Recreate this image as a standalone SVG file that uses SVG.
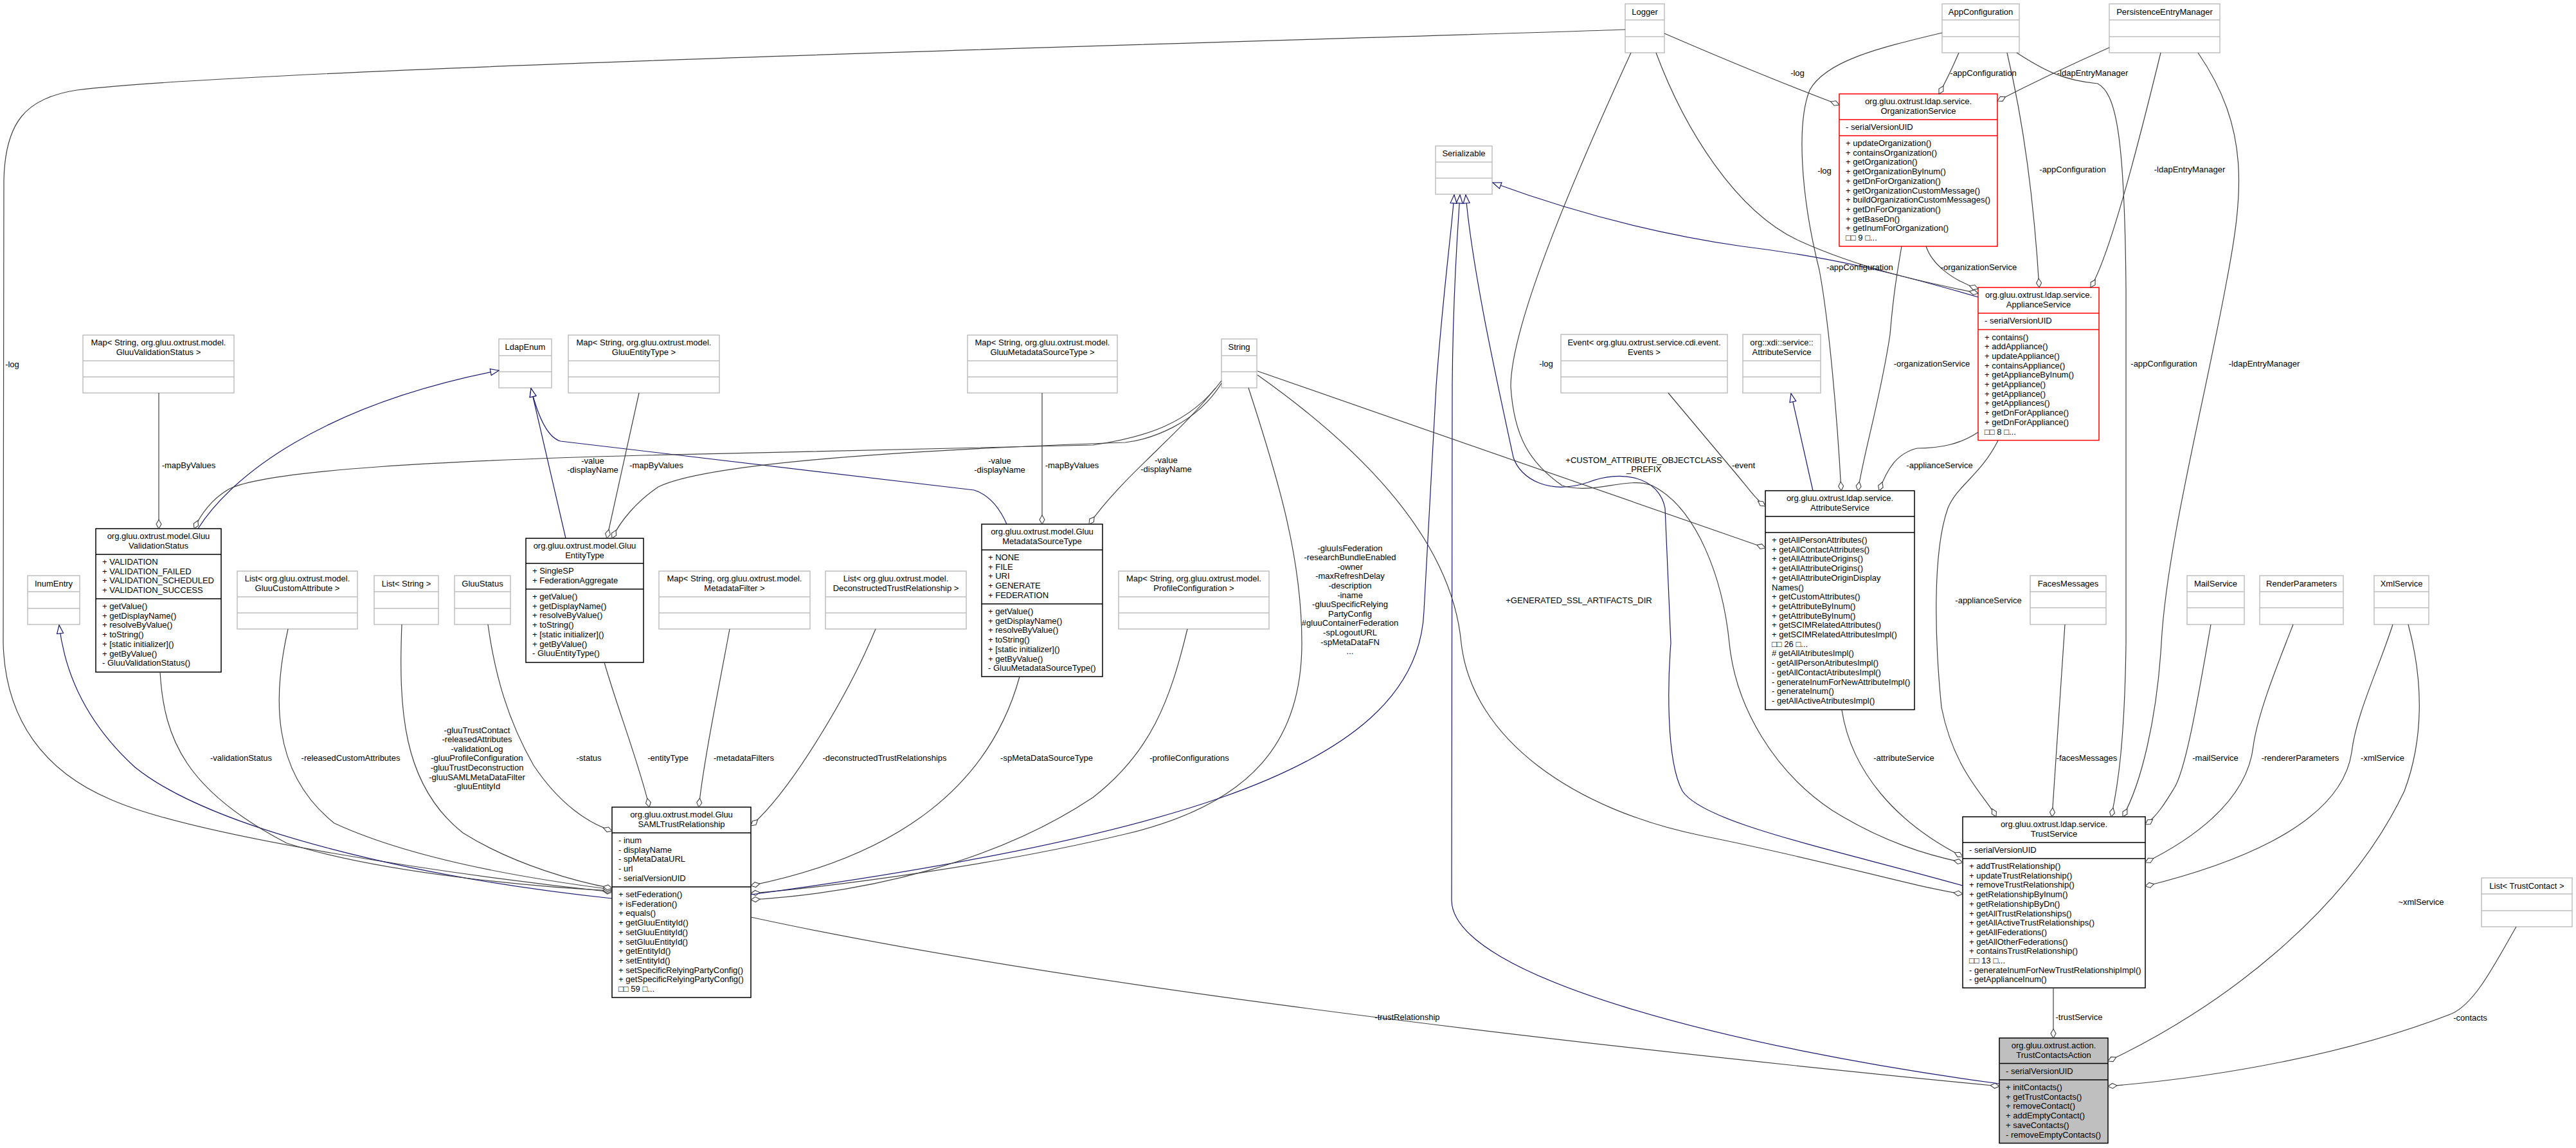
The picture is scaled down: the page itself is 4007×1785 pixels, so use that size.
<svg xmlns="http://www.w3.org/2000/svg" width="4007" height="1785" viewBox="0 0 4007 1785">
<style>
text{font-family:"Liberation Sans",Arial,Helvetica,sans-serif;font-size:13px;fill:#000}
.c{text-anchor:middle}
.gb{fill:#fff;stroke:#bfbfbf;stroke-width:1.5}
.gl{stroke:#bfbfbf;stroke-width:1.5;fill:none}
.bb{fill:#fff;stroke:#000;stroke-width:1.5}
.bl{stroke:#000;stroke-width:1.5;fill:none}
.rb{fill:#fff;stroke:#ff0000;stroke-width:1.5}
.rl{stroke:#ff0000;stroke-width:1.5;fill:none}
.fb{fill:#bfbfbf;stroke:#000;stroke-width:1.5}
.u{fill:none;stroke:#404040;stroke-width:1.2;marker-end:url(#dia)}
.i{fill:none;stroke:#191970;stroke-width:1.2;marker-end:url(#tri)}
</style>
<defs>
<marker id="dia" markerUnits="userSpaceOnUse" markerWidth="17" markerHeight="11" viewBox="-16 -5.5 17 11" refX="0" refY="0" orient="auto"><path d="M0,0 L-7,-4 L-14,0 L-7,4 Z" fill="#fff" stroke="#404040" stroke-width="1.1"/></marker>
<marker id="tri" markerUnits="userSpaceOnUse" markerWidth="16" markerHeight="13" viewBox="-15 -6.5 16 13" refX="0" refY="0" orient="auto"><path d="M0,0 L-13,-5 L-13,5 Z" fill="#fff" stroke="#191970" stroke-width="1.2"/></marker>
</defs>
<rect x="0" y="0" width="4007" height="1785" fill="#fff"/>

<g id="n_logger"><rect class="gb" x="2528" y="6" width="61" height="76"/><path class="gl" d="M2528,31H2589M2528,57H2589"/><text class="c" x="2558.5" y="22.5">Logger</text></g>
<g id="n_appconf"><rect class="gb" x="3021" y="6" width="120" height="76"/><path class="gl" d="M3021,31H3141M3021,57H3141"/><text class="c" x="3081" y="22.5">AppConfiguration</text></g>
<g id="n_pem"><rect class="gb" x="3281" y="6" width="172" height="76"/><path class="gl" d="M3281,31H3453M3281,57H3453"/><text class="c" x="3367" y="22.5">PersistenceEntryManager</text></g>
<g id="n_serializable"><rect class="gb" x="2233" y="227" width="88" height="75"/><path class="gl" d="M2233,252H2321M2233,277H2321"/><text class="c" x="2277" y="243">Serializable</text></g>
<g id="n_mapvs"><rect class="gb" x="129" y="521" width="235" height="90"/><path class="gl" d="M129,561H364M129,586H364"/><text class="c" x="246.5" y="537">Map&lt; String, org.gluu.oxtrust.model.</text><text class="c" x="246.5" y="551.7">GluuValidationStatus &gt;</text></g>
<g id="n_ldapenum"><rect class="gb" x="776" y="527" width="82" height="76"/><path class="gl" d="M776,553H858M776,578H858"/><text class="c" x="817" y="543.5">LdapEnum</text></g>
<g id="n_mapet"><rect class="gb" x="884" y="521" width="235" height="90"/><path class="gl" d="M884,561H1119M884,586H1119"/><text class="c" x="1001.5" y="537">Map&lt; String, org.gluu.oxtrust.model.</text><text class="c" x="1001.5" y="551.7">GluuEntityType &gt;</text></g>
<g id="n_mapmst"><rect class="gb" x="1505" y="521" width="233" height="90"/><path class="gl" d="M1505,561H1738M1505,586H1738"/><text class="c" x="1621.5" y="537">Map&lt; String, org.gluu.oxtrust.model.</text><text class="c" x="1621.5" y="551.7">GluuMetadataSourceType &gt;</text></g>
<g id="n_string"><rect class="gb" x="1900" y="527" width="55" height="76"/><path class="gl" d="M1900,553H1955M1900,578H1955"/><text class="c" x="1927.5" y="543.5">String</text></g>
<g id="n_events"><rect class="gb" x="2428" y="520" width="259" height="91"/><path class="gl" d="M2428,561H2687M2428,586H2687"/><text class="c" x="2557.5" y="537">Event&lt; org.gluu.oxtrust.service.cdi.event.</text><text class="c" x="2557.5" y="551.7">Events &gt;</text></g>
<g id="n_xdiattr"><rect class="gb" x="2711" y="520" width="121" height="91"/><path class="gl" d="M2711,561H2832M2711,586H2832"/><text class="c" x="2771.5" y="537">org::xdi::service::</text><text class="c" x="2771.5" y="551.7">AttributeService</text></g>
<g id="n_inumentry"><rect class="gb" x="43" y="895" width="81" height="76"/><path class="gl" d="M43,920H124M43,946H124"/><text class="c" x="83.5" y="911.5">InumEntry</text></g>
<g id="n_listgca"><rect class="gb" x="369" y="888" width="187" height="90"/><path class="gl" d="M369,928H556M369,953H556"/><text class="c" x="462.5" y="904">List&lt; org.gluu.oxtrust.model.</text><text class="c" x="462.5" y="918.7">GluuCustomAttribute &gt;</text></g>
<g id="n_liststring"><rect class="gb" x="582" y="895" width="100" height="76"/><path class="gl" d="M582,920H682M582,946H682"/><text class="c" x="632" y="911.5">List&lt; String &gt;</text></g>
<g id="n_gluustatus"><rect class="gb" x="707" y="895" width="87" height="76"/><path class="gl" d="M707,920H794M707,946H794"/><text class="c" x="750.5" y="911.5">GluuStatus</text></g>
<g id="n_mapmf"><rect class="gb" x="1025" y="888" width="235" height="90"/><path class="gl" d="M1025,928H1260M1025,953H1260"/><text class="c" x="1142.5" y="904">Map&lt; String, org.gluu.oxtrust.model.</text><text class="c" x="1142.5" y="918.7">MetadataFilter &gt;</text></g>
<g id="n_listdtr"><rect class="gb" x="1284" y="888" width="219" height="90"/><path class="gl" d="M1284,928H1503M1284,953H1503"/><text class="c" x="1393.5" y="904">List&lt; org.gluu.oxtrust.model.</text><text class="c" x="1393.5" y="918.7">DeconstructedTrustRelationship &gt;</text></g>
<g id="n_mappc"><rect class="gb" x="1740" y="888" width="234" height="90"/><path class="gl" d="M1740,928H1974M1740,953H1974"/><text class="c" x="1857" y="904">Map&lt; String, org.gluu.oxtrust.model.</text><text class="c" x="1857" y="918.7">ProfileConfiguration &gt;</text></g>
<g id="n_faces"><rect class="gb" x="3158" y="895" width="118" height="76"/><path class="gl" d="M3158,920H3276M3158,945H3276"/><text class="c" x="3217" y="911.5">FacesMessages</text></g>
<g id="n_mail"><rect class="gb" x="3402" y="895" width="89" height="76"/><path class="gl" d="M3402,920H3491M3402,945H3491"/><text class="c" x="3446.5" y="911.5">MailService</text></g>
<g id="n_render"><rect class="gb" x="3515" y="895" width="130" height="76"/><path class="gl" d="M3515,920H3645M3515,945H3645"/><text class="c" x="3580" y="911.5">RenderParameters</text></g>
<g id="n_xml"><rect class="gb" x="3693" y="895" width="85" height="76"/><path class="gl" d="M3693,920H3778M3693,945H3778"/><text class="c" x="3735.5" y="911.5">XmlService</text></g>
<g id="n_listtc"><rect class="gb" x="3860" y="1365" width="141" height="76"/><path class="gl" d="M3860,1390H4001M3860,1416H4001"/><text class="c" x="3930.5" y="1381.5">List&lt; TrustContact &gt;</text></g>

<g id="n_validationstatus"><rect class="bb" x="149" y="822" width="195" height="223"/><path class="bl" d="M149,862H344M149,931H344"/>
<text class="c" x="246.5" y="838">org.gluu.oxtrust.model.Gluu</text><text class="c" x="246.5" y="852.7">ValidationStatus</text>
<text x="159" y="878">+ VALIDATION</text><text x="159" y="892.7">+ VALIDATION_FAILED</text><text x="159" y="907.4">+ VALIDATION_SCHEDULED</text><text x="159" y="922.1">+ VALIDATION_SUCCESS</text>
<text x="159" y="947">+ getValue()</text><text x="159" y="961.7">+ getDisplayName()</text><text x="159" y="976.4">+ resolveByValue()</text><text x="159" y="991.1">+ toString()</text><text x="159" y="1005.8">+ [static initializer]()</text><text x="159" y="1020.5">+ getByValue()</text><text x="159" y="1035.2">- GluuValidationStatus()</text></g>

<g id="n_entitytype"><rect class="bb" x="818" y="837" width="183" height="193"/><path class="bl" d="M818,876H1001M818,916H1001"/>
<text class="c" x="909.5" y="853">org.gluu.oxtrust.model.Gluu</text><text class="c" x="909.5" y="867.7">EntityType</text>
<text x="828" y="892">+ SingleSP</text><text x="828" y="906.7">+ FederationAggregate</text>
<text x="828" y="932">+ getValue()</text><text x="828" y="946.7">+ getDisplayName()</text><text x="828" y="961.4">+ resolveByValue()</text><text x="828" y="976.1">+ toString()</text><text x="828" y="990.8">+ [static initializer]()</text><text x="828" y="1005.5">+ getByValue()</text><text x="828" y="1020.2">- GluuEntityType()</text></g>

<g id="n_metadatasourcetype"><rect class="bb" x="1527" y="815" width="188" height="237"/><path class="bl" d="M1527,855H1715M1527,939H1715"/>
<text class="c" x="1621" y="831">org.gluu.oxtrust.model.Gluu</text><text class="c" x="1621" y="845.7">MetadataSourceType</text>
<text x="1537" y="871">+ NONE</text><text x="1537" y="885.7">+ FILE</text><text x="1537" y="900.4">+ URI</text><text x="1537" y="915.1">+ GENERATE</text><text x="1537" y="929.8">+ FEDERATION</text>
<text x="1537" y="955">+ getValue()</text><text x="1537" y="969.7">+ getDisplayName()</text><text x="1537" y="984.4">+ resolveByValue()</text><text x="1537" y="999.1">+ toString()</text><text x="1537" y="1013.8">+ [static initializer]()</text><text x="1537" y="1028.5">+ getByValue()</text><text x="1537" y="1043.2">- GluuMetadataSourceType()</text></g>

<g id="n_samltrust"><rect class="bb" x="952" y="1255" width="216" height="296"/><path class="bl" d="M952,1295H1168M952,1379H1168"/>
<text class="c" x="1060" y="1271">org.gluu.oxtrust.model.Gluu</text><text class="c" x="1060" y="1285.7">SAMLTrustRelationship</text>
<text x="962" y="1311">- inum</text><text x="962" y="1325.7">- displayName</text><text x="962" y="1340.4">- spMetaDataURL</text><text x="962" y="1355.1">- url</text><text x="962" y="1369.8">- serialVersionUID</text>
<text x="962" y="1395">+ setFederation()</text><text x="962" y="1409.7">+ isFederation()</text><text x="962" y="1424.4">+ equals()</text><text x="962" y="1439.1">+ getGluuEntityId()</text><text x="962" y="1453.8">+ setGluuEntityId()</text><text x="962" y="1468.5">+ setGluuEntityId()</text><text x="962" y="1483.2">+ getEntityId()</text><text x="962" y="1497.9">+ setEntityId()</text><text x="962" y="1512.6">+ setSpecificRelyingPartyConfig()</text><text x="962" y="1527.3">+ getSpecificRelyingPartyConfig()</text><text x="962" y="1542">□□ 59 □...</text></g>

<g id="n_orgservice"><rect class="rb" x="2861" y="146" width="246" height="237"/><path class="rl" d="M2861,186H3107M2861,211H3107"/>
<text class="c" x="2984" y="162">org.gluu.oxtrust.ldap.service.</text><text class="c" x="2984" y="176.7">OrganizationService</text>
<text x="2871" y="202">- serialVersionUID</text>
<text x="2871" y="227">+ updateOrganization()</text><text x="2871" y="241.7">+ containsOrganization()</text><text x="2871" y="256.4">+ getOrganization()</text><text x="2871" y="271.1">+ getOrganizationByInum()</text><text x="2871" y="285.8">+ getDnForOrganization()</text><text x="2871" y="300.5">+ getOrganizationCustomMessage()</text><text x="2871" y="315.2">+ buildOrganizationCustomMessages()</text><text x="2871" y="329.9">+ getDnForOrganization()</text><text x="2871" y="344.6">+ getBaseDn()</text><text x="2871" y="359.3">+ getInumForOrganization()</text><text x="2871" y="374">□□ 9 □...</text></g>

<g id="n_applianceservice"><rect class="rb" x="3077" y="447" width="188" height="237.6"/><path class="rl" d="M3077,487H3265M3077,512.5H3265"/>
<text class="c" x="3171" y="463">org.gluu.oxtrust.ldap.service.</text><text class="c" x="3171" y="477.7">ApplianceService</text>
<text x="3087" y="503">- serialVersionUID</text>
<text x="3087" y="528.5">+ contains()</text><text x="3087" y="543.2">+ addAppliance()</text><text x="3087" y="557.9">+ updateAppliance()</text><text x="3087" y="572.6">+ containsAppliance()</text><text x="3087" y="587.3">+ getApplianceByInum()</text><text x="3087" y="602">+ getAppliance()</text><text x="3087" y="616.7">+ getAppliance()</text><text x="3087" y="631.4">+ getAppliances()</text><text x="3087" y="646.1">+ getDnForAppliance()</text><text x="3087" y="660.8">+ getDnForAppliance()</text><text x="3087" y="675.5">□□ 8 □...</text></g>

<g id="n_attributeservice"><rect class="bb" x="2746" y="763" width="232" height="340.5"/><path class="bl" d="M2746,803H2978M2746,828H2978"/>
<text class="c" x="2862" y="779">org.gluu.oxtrust.ldap.service.</text><text class="c" x="2862" y="793.7">AttributeService</text>
<text x="2756" y="844">+ getAllPersonAttributes()</text><text x="2756" y="858.7">+ getAllContactAttributes()</text><text x="2756" y="873.4">+ getAllAttributeOrigins()</text><text x="2756" y="888.1">+ getAllAttributeOrigins()</text><text x="2756" y="902.8">+ getAllAttributeOriginDisplay</text><text x="2756" y="917.5">Names()</text><text x="2756" y="932.2">+ getCustomAttributes()</text><text x="2756" y="946.9">+ getAttributeByInum()</text><text x="2756" y="961.6">+ getAttributeByInum()</text><text x="2756" y="976.3">+ getSCIMRelatedAttributes()</text><text x="2756" y="991">+ getSCIMRelatedAttributesImpl()</text><text x="2756" y="1005.7">□□ 26 □...</text><text x="2756" y="1020.4"># getAllAtributesImpl()</text><text x="2756" y="1035.1">- getAllPersonAtributesImpl()</text><text x="2756" y="1049.8">- getAllContactAtributesImpl()</text><text x="2756" y="1064.5">- generateInumForNewAttributeImpl()</text><text x="2756" y="1079.2">- generateInum()</text><text x="2756" y="1093.9">- getAllActiveAtributesImpl()</text></g>

<g id="n_trustservice"><rect class="bb" x="3053" y="1270" width="284" height="266"/><path class="bl" d="M3053,1310H3337M3053,1335H3337"/>
<text class="c" x="3195" y="1286">org.gluu.oxtrust.ldap.service.</text><text class="c" x="3195" y="1300.7">TrustService</text>
<text x="3063" y="1326">- serialVersionUID</text>
<text x="3063" y="1351">+ addTrustRelationship()</text><text x="3063" y="1365.7">+ updateTrustRelationship()</text><text x="3063" y="1380.4">+ removeTrustRelationship()</text><text x="3063" y="1395.1">+ getRelationshipByInum()</text><text x="3063" y="1409.8">+ getRelationshipByDn()</text><text x="3063" y="1424.5">+ getAllTrustRelationships()</text><text x="3063" y="1439.2">+ getAllActiveTrustRelationships()</text><text x="3063" y="1453.9">+ getAllFederations()</text><text x="3063" y="1468.6">+ getAllOtherFederations()</text><text x="3063" y="1483.3">+ containsTrustRelationship()</text><text x="3063" y="1498">□□ 13 □...</text><text x="3063" y="1512.7">- generateInumForNewTrustRelationshipImpl()</text><text x="3063" y="1527.4">- getApplianceInum()</text></g>

<g id="n_trustcontactsaction"><rect class="fb" x="3110" y="1614" width="169" height="163.5"/><path class="bl" d="M3110,1653.5H3279M3110,1679H3279"/>
<text class="c" x="3194.5" y="1630">org.gluu.oxtrust.action.</text><text class="c" x="3194.5" y="1644.7">TrustContactsAction</text>
<text x="3120" y="1669.5">- serialVersionUID</text>
<text x="3120" y="1695">+ initContacts()</text><text x="3120" y="1709.7">+ getTrustContacts()</text><text x="3120" y="1724.4">+ removeContact()</text><text x="3120" y="1739.1">+ addEmptyContact()</text><text x="3120" y="1753.8">+ saveContacts()</text><text x="3120" y="1768.5">- removeEmptyContacts()</text></g>

<g id="edges">
<path class="u" d="M2528,46 C2000,64 400,105 120,140 C40,152 8,190 6,280 L5,1000 C8,1120 70,1200 172,1243 C300,1300 700,1360 952,1387"/>
<path class="i" d="M952,1397 C650,1365 330,1290 210,1193 C130,1120 100,1040 92,972"/>
<path class="u" d="M249,1045 C255,1150 290,1230 446,1311 C600,1360 850,1380 952,1385"/>
<path class="u" d="M448,978 C425,1080 420,1200 520,1280 C650,1340 850,1370 952,1383"/>
<path class="u" d="M625,971 C620,1100 625,1220 720,1295 C800,1345 900,1372 952,1381"/>
<path class="u" d="M759,971 C770,1050 790,1120 830,1190 C870,1250 915,1280 952,1292"/>
<path class="u" d="M940,1030 C960,1100 995,1190 1010,1255"/>
<path class="u" d="M1135,978 C1120,1060 1095,1180 1087,1255"/>
<path class="u" d="M1362,978 C1320,1080 1230,1230 1168,1284"/>
<path class="u" d="M1586,1052 C1540,1220 1400,1330 1168,1377"/>
<path class="u" d="M1942,603 C1990,750 2025,870 2025,1000 C2025,1150 1950,1250 1750,1297 C1550,1345 1300,1378 1168,1389"/>
<path class="i" d="M1168,1391 C1400,1360 1700,1310 1900,1240 C2100,1170 2210,1080 2215,950 L2234,600 C2245,450 2258,360 2262,303"/>
<path class="u" d="M1847,978 C1820,1090 1790,1170 1700,1240 C1550,1340 1350,1388 1168,1399"/>
<path class="u" d="M1168,1426 C1600,1520 2300,1610 3110,1689"/>
<path class="i" d="M3110,1685 C2700,1630 2260,1520 2258,1400 L2259,600 C2260,450 2268,350 2271,303"/>
<path class="i" d="M3053,1377 C2850,1320 2650,1280 2617,1230 C2590,1180 2595,1050 2599,1000 L2590,790 C2580,740 2520,730 2470,750 C2410,770 2365,745 2354,711 C2330,600 2290,420 2280,303"/>
<path class="i" d="M3077,462 C2950,425 2850,400 2710,383 C2550,360 2420,320 2322,284"/>
<path class="i" d="M2820,763 L2786,612"/>
<path class="i" d="M880,837 L826,604"/>
<path class="i" d="M1566,815 C1555,790 1540,770 1515,762 L872,686 C850,680 835,640 826,604"/>
<path class="i" d="M308,822 C360,740 500,630 776,576"/>
<path class="u" d="M247,611 L247,822"/>
<path class="u" d="M994,611 L944,837"/>
<path class="u" d="M1621,611 L1621,815"/>
<path class="u" d="M1900,592 C1850,660 1780,680 1700,692 L1000,708 C700,716 420,730 357,760 C330,775 312,800 302,822"/>
<path class="u" d="M1900,596 C1860,660 1790,683 1750,688 C1400,700 1100,720 1024,757 C990,780 965,810 952,837"/>
<path class="u" d="M1891,603 C1830,680 1750,737 1694,815"/>
<path class="u" d="M1956,577 L2746,852"/>
<path class="u" d="M1956,583 C2150,720 2260,860 2273,1000 C2290,1150 2450,1260 2650,1300 C2850,1340 2980,1380 3053,1390"/>
<path class="u" d="M2595,611 L2700,736 C2720,760 2733,778 2746,787"/>
<path class="u" d="M2589,52 C2700,100 2800,140 2861,163"/>
<path class="u" d="M2576,82 C2620,200 2700,330 2800,375 C2900,420 3000,440 3077,456"/>
<path class="u" d="M2537,82 C2460,250 2350,500 2350,601 C2355,680 2380,720 2430,755 C2480,770 2530,740 2570,755 C2640,790 2680,900 2690,1000 C2700,1100 2760,1200 2850,1260 C2930,1310 3000,1330 3053,1341"/>
<path class="u" d="M3047,82 C3035,110 3025,130 3016,146"/>
<path class="u" d="M3281,74 C3200,110 3140,140 3107,157"/>
<path class="u" d="M3021,51 C2920,75 2840,95 2815,140 C2795,190 2800,300 2830,420 C2845,500 2858,650 2864,763"/>
<path class="u" d="M2958,383 C2950,430 2945,460 2940,520 C2925,620 2900,700 2890,763"/>
<path class="u" d="M2996,383 C3005,410 3035,435 3077,449"/>
<path class="u" d="M3077,672 C3050,690 3020,697 2982,697 C2950,705 2935,730 2923,763"/>
<path class="u" d="M3122,82 C3150,200 3165,330 3172,447"/>
<path class="u" d="M3361,82 C3320,250 3280,400 3252,447"/>
<path class="u" d="M3108,685 C3080,740 3045,754 3030,790 C3005,860 3010,1000 3020,1100 C3040,1200 3090,1240 3105,1270"/>
<path class="u" d="M3137,82 C3180,110 3210,125 3263,130 C3290,145 3305,200 3307,450 L3307,1000 C3305,1150 3295,1220 3284,1270"/>
<path class="u" d="M3419,82 C3500,200 3490,300 3463,440 C3430,620 3370,850 3362,1000 C3355,1120 3330,1220 3302,1270"/>
<path class="u" d="M2865,1104 C2880,1200 2950,1280 3053,1332"/>
<path class="u" d="M3212,971 L3192,1270"/>
<path class="u" d="M3439,971 C3420,1080 3400,1200 3381,1227 C3370,1245 3355,1270 3337,1282"/>
<path class="u" d="M3567,971 C3540,1040 3512,1110 3505,1160 C3495,1250 3400,1310 3337,1341"/>
<path class="u" d="M3722,971 C3700,1040 3665,1110 3658,1170 C3640,1290 3450,1350 3337,1378"/>
<path class="u" d="M3746,971 C3770,1060 3770,1150 3740,1230 C3650,1420 3450,1570 3279,1650"/>
<path class="u" d="M3914,1441 C3880,1500 3850,1560 3814,1576 C3650,1640 3450,1675 3279,1689"/>
<path class="u" d="M3194,1536 L3194,1614"/>
</g>

<g id="edge-labels">
<text class="c" x="19" y="570.5">-log</text>
<text class="c" x="293.5" y="727.5">-mapByValues</text>
<text class="c" x="922" y="720.5">-value</text><text class="c" x="922" y="735.2">-displayName</text>
<text class="c" x="1021" y="727.5">-mapByValues</text>
<text class="c" x="1555" y="720.5">-value</text><text class="c" x="1555" y="735.2">-displayName</text>
<text class="c" x="1667.5" y="727.5">-mapByValues</text>
<text class="c" x="1814" y="719.5">-value</text><text class="c" x="1814" y="734.2">-displayName</text>
<text class="c" x="2557" y="719.5">+CUSTOM_ATTRIBUTE_OBJECTCLASS</text><text class="c" x="2557" y="734.2">_PREFIX</text>
<text class="c" x="2405" y="569.5">-log</text>
<text class="c" x="2712" y="727.5">-event</text>
<text class="c" x="2796" y="117.5">-log</text>
<text class="c" x="2838" y="269.5">-log</text>
<text class="c" x="2893" y="419.5">-appConfiguration</text>
<text class="c" x="3078" y="419.5">-organizationService</text>
<text class="c" x="3085" y="117.5">-appConfiguration</text>
<text class="c" x="3255" y="117.5">-ldapEntryManager</text>
<text class="c" x="3224" y="267.5">-appConfiguration</text>
<text class="c" x="3406" y="267.5">-ldapEntryManager</text>
<text class="c" x="3005" y="569.5">-organizationService</text>
<text class="c" x="3366" y="569.5">-appConfiguration</text>
<text class="c" x="3522" y="569.5">-ldapEntryManager</text>
<text class="c" x="3017" y="727.5">-applianceService</text>
<text class="c" x="3093" y="937.5">-applianceService</text>
<text class="c" x="2456" y="937.5">+GENERATED_SSL_ARTIFACTS_DIR</text>
<text class="c"><tspan x="2100" y="856.5">-gluuIsFederation</tspan><tspan x="2100" y="871.1">-researchBundleEnabled</tspan><tspan x="2100" y="885.7">-owner</tspan><tspan x="2100" y="900.3">-maxRefreshDelay</tspan><tspan x="2100" y="914.9">-description</tspan><tspan x="2100" y="929.5">-iname</tspan><tspan x="2100" y="944.1">-gluuSpecificRelying</tspan><tspan x="2100" y="958.7">PartyConfig</tspan><tspan x="2100" y="973.3">#gluuContainerFederation</tspan><tspan x="2100" y="987.9">-spLogoutURL</tspan><tspan x="2100" y="1002.5">-spMetaDataFN</tspan><tspan x="2100" y="1017.1">...</tspan></text>
<text class="c" x="375" y="1183">-validationStatus</text>
<text class="c" x="545.5" y="1183">-releasedCustomAttributes</text>
<text class="c"><tspan x="742" y="1139.5">-gluuTrustContact</tspan><tspan x="742" y="1154.1">-releasedAttributes</tspan><tspan x="742" y="1168.7">-validationLog</tspan><tspan x="742" y="1183.3">-gluuProfileConfiguration</tspan><tspan x="742" y="1197.9">-gluuTrustDeconstruction</tspan><tspan x="742" y="1212.5">-gluuSAMLMetaDataFilter</tspan><tspan x="742" y="1227.1">-gluuEntityId</tspan></text>
<text class="c" x="916" y="1183">-status</text>
<text class="c" x="1039" y="1183">-entityType</text>
<text class="c" x="1157" y="1183">-metadataFilters</text>
<text class="c" x="1376" y="1183">-deconstructedTrustRelationships</text>
<text class="c" x="1628" y="1183">-spMetaDataSourceType</text>
<text class="c" x="1850" y="1183">-profileConfigurations</text>
<text class="c" x="2961.5" y="1183">-attributeService</text>
<text class="c" x="3246" y="1183">-facesMessages</text>
<text class="c" x="3446" y="1183">-mailService</text>
<text class="c" x="3578" y="1183">-rendererParameters</text>
<text class="c" x="3706" y="1183">-xmlService</text>
<text class="c" x="3766" y="1406.5">~xmlService</text>
<text class="c" x="3842.5" y="1586.5">-contacts</text>
<text class="c" x="3234" y="1586">-trustService</text>
<text class="c" x="2189" y="1586">-trustRelationship</text>
</g>
</svg>
